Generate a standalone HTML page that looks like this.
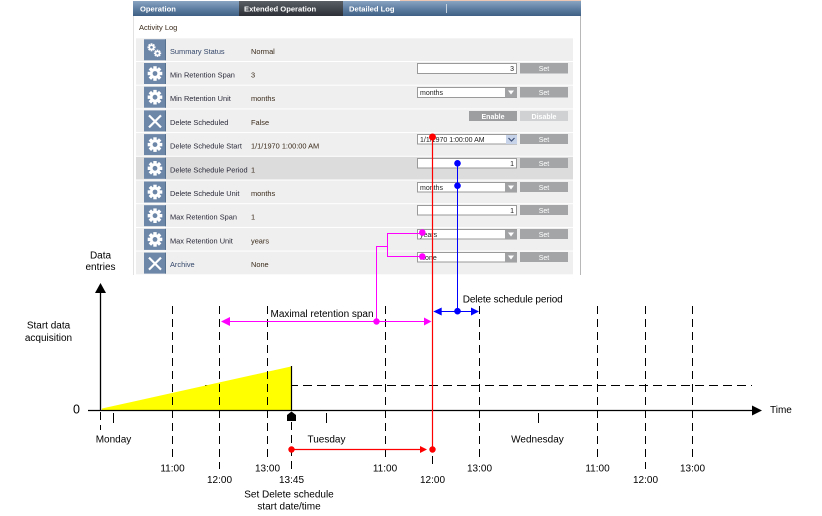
<!DOCTYPE html>
<html><head><meta charset="utf-8"><style>
html,body{margin:0;padding:0;background:#fff;}
svg{display:block;font-family:"Liberation Sans",sans-serif;}
</style></head><body>
<svg width="822" height="516" viewBox="0 0 822 516" xmlns="http://www.w3.org/2000/svg">
<defs>
<linearGradient id="tab" x1="0" y1="0" x2="0" y2="1"><stop offset="0" stop-color="#8aa5c2"/><stop offset="0.5" stop-color="#5f7fa3"/><stop offset="1" stop-color="#3f5f84"/></linearGradient>
<linearGradient id="tabd" x1="0" y1="0" x2="0" y2="1"><stop offset="0" stop-color="#5a5f66"/><stop offset="1" stop-color="#2c3036"/></linearGradient>
<g id="gear"><circle r="5.2" fill="#fff"/>
<rect x="-1.7" y="-7.3" width="3.4" height="3.2" fill="#fff"/>
<rect x="-1.7" y="-7.3" width="3.4" height="3.2" fill="#fff" transform="rotate(45)"/>
<rect x="-1.7" y="-7.3" width="3.4" height="3.2" fill="#fff" transform="rotate(90)"/>
<rect x="-1.7" y="-7.3" width="3.4" height="3.2" fill="#fff" transform="rotate(135)"/>
<rect x="-1.7" y="-7.3" width="3.4" height="3.2" fill="#fff" transform="rotate(180)"/>
<rect x="-1.7" y="-7.3" width="3.4" height="3.2" fill="#fff" transform="rotate(225)"/>
<rect x="-1.7" y="-7.3" width="3.4" height="3.2" fill="#fff" transform="rotate(270)"/>
<rect x="-1.7" y="-7.3" width="3.4" height="3.2" fill="#fff" transform="rotate(315)"/>
<circle r="2.4" fill="#6d87a9"/></g>
</defs>

<!-- panel -->
<rect x="133" y="0" width="448" height="275" fill="#fff"/>
<rect x="400" y="0" width="181" height="2" fill="#ecc8b4"/>
<rect x="133" y="1" width="448" height="15" fill="url(#tab)"/>
<rect x="239" y="1" width="104" height="15" fill="url(#tabd)"/>
<line x1="446.5" y1="4" x2="446.5" y2="13" stroke="#c8d4e0" stroke-width="1"/>
<g font-size="7.6" font-weight="bold" fill="#fff">
<text x="140" y="11.3">Operation</text>
<text x="244" y="11.3">Extended Operation</text>
<text x="349" y="11.3">Detailed Log</text>
</g>
<line x1="133.5" y1="16" x2="133.5" y2="275" stroke="#e2e2e2"/>
<line x1="580.5" y1="16" x2="580.5" y2="275" stroke="#b8b8b8"/>
<text x="139" y="30" font-size="7.5" fill="#3a2a1a">Activity Log</text>

<!-- rows -->
<g>
<rect x="136" y="38.3" width="437" height="22.7" fill="#efefef"/>
<rect x="136" y="62" width="437" height="22.7" fill="#efefef"/>
<rect x="136" y="85.7" width="437" height="22.7" fill="#efefef"/>
<rect x="136" y="109.4" width="437" height="22.7" fill="#efefef"/>
<rect x="136" y="133.1" width="437" height="22.7" fill="#efefef"/>
<rect x="136" y="156.8" width="437" height="22.7" fill="#dcdcdc"/>
<rect x="136" y="180.5" width="437" height="22.7" fill="#efefef"/>
<rect x="136" y="204.2" width="437" height="22.7" fill="#efefef"/>
<rect x="136" y="227.9" width="437" height="22.7" fill="#efefef"/>
<rect x="136" y="251.6" width="437" height="22.7" fill="#efefef"/>
</g>
<!-- icons -->
<g fill="#6d87a9">
<rect x="144" y="39.3" width="22" height="21"/>
<rect x="144" y="63" width="22" height="21"/>
<rect x="144" y="86.7" width="22" height="21"/>
<rect x="144" y="110.4" width="22" height="21"/>
<rect x="144" y="134.1" width="22" height="21"/>
<rect x="144" y="157.8" width="22" height="21"/>
<rect x="144" y="181.5" width="22" height="21"/>
<rect x="144" y="205.2" width="22" height="21"/>
<rect x="144" y="228.9" width="22" height="21"/>
<rect x="144" y="252.6" width="22" height="21"/>
</g>
<g stroke="#56708f" stroke-width="1">
<line x1="165.5" y1="39.3" x2="165.5" y2="60.3"/><line x1="165.5" y1="63" x2="165.5" y2="84"/><line x1="165.5" y1="86.7" x2="165.5" y2="107.7"/><line x1="165.5" y1="110.4" x2="165.5" y2="131.4"/><line x1="165.5" y1="134.1" x2="165.5" y2="155.1"/><line x1="165.5" y1="157.8" x2="165.5" y2="178.8"/><line x1="165.5" y1="181.5" x2="165.5" y2="202.5"/><line x1="165.5" y1="205.2" x2="165.5" y2="226.2"/><line x1="165.5" y1="228.9" x2="165.5" y2="249.9"/><line x1="165.5" y1="252.6" x2="165.5" y2="273.6"/>
</g>
<use href="#gear" transform="translate(151.5,47.3) scale(0.55)"/>
<use href="#gear" transform="translate(157.5,53.3) scale(0.5)"/>
<use href="#gear" transform="translate(155,73.5)"/>
<use href="#gear" transform="translate(155,97.2)"/>
<use href="#gear" transform="translate(155,144.6)"/>
<use href="#gear" transform="translate(155,168.3)"/>
<use href="#gear" transform="translate(155,192)"/>
<use href="#gear" transform="translate(155,215.7)"/>
<use href="#gear" transform="translate(155,239.4)"/>
<g stroke="#fff" stroke-width="2.2">
<line x1="149" y1="115.4" x2="161" y2="127.4"/><line x1="161" y1="115.4" x2="149" y2="127.4"/>
<line x1="149" y1="257.6" x2="161" y2="269.6"/><line x1="161" y1="257.6" x2="149" y2="269.6"/>
</g>
<!-- labels -->
<g font-size="7.4" fill="#2a2a3a">
<text x="170" y="53.8" fill="#34476a">Summary Status</text>
<text x="170" y="77.5">Min Retention Span</text>
<text x="170" y="101.2">Min Retention Unit</text>
<text x="170" y="124.9">Delete Scheduled</text>
<text x="170" y="148.6">Delete Schedule Start</text>
<text x="170" y="172.3">Delete Schedule Period</text>
<text x="170" y="196">Delete Schedule Unit</text>
<text x="170" y="219.7">Max Retention Span</text>
<text x="170" y="243.4">Max Retention Unit</text>
<text x="170" y="267.1" fill="#34476a">Archive</text>
</g>
<g font-size="7.4" fill="#3a2a1a">
<text x="251" y="53.8">Normal</text>
<text x="251" y="77.5">3</text>
<text x="251" y="101.2">months</text>
<text x="251" y="124.9">False</text>
<text x="251" y="148.6">1/1/1970 1:00:00 AM</text>
<text x="251" y="172.3">1</text>
<text x="251" y="196">months</text>
<text x="251" y="219.7">1</text>
<text x="251" y="243.4">years</text>
<text x="251" y="267.1">None</text>
</g>
<!-- controls -->
<g fill="#fff" stroke="#9a9a9a" stroke-width="1">
<rect x="417.5" y="63.5" width="99" height="10"/>
<rect x="417.5" y="87.5" width="99" height="10"/>
<rect x="417.5" y="134.5" width="99" height="9.5"/>
<rect x="417.5" y="158.5" width="99" height="9.5"/>
<rect x="417.5" y="182.5" width="99" height="9.5"/>
<rect x="417.5" y="205.5" width="99" height="9.5"/>
<rect x="417.5" y="229.5" width="99" height="9.5"/>
<rect x="417.5" y="252.5" width="99" height="9.5"/>
</g>
<g fill="#a0a2a4">
<rect x="505" y="88" width="12" height="9.5"/>
<rect x="505" y="183" width="12" height="9"/>
<rect x="505" y="230" width="12" height="9"/>
<rect x="505" y="253" width="12" height="9"/>
</g>
<rect x="506" y="135" width="11" height="9" fill="#c6d3e8"/>
<path d="M508.5 138 L511.5 141 L514.5 138" fill="none" stroke="#3b4f78" stroke-width="1.2"/>
<g fill="#fff">
<path d="M508 90.5 H514 L511 94.5 Z"/>
<path d="M508 185.5 H514 L511 189.5 Z"/>
<path d="M508 232.5 H514 L511 236.5 Z"/>
<path d="M508 255.5 H514 L511 259.5 Z"/>
</g>
<g fill="#a3a5a7">
<rect x="520" y="63" width="48" height="10.5"/>
<rect x="520" y="87" width="48" height="10.5"/>
<rect x="520" y="134" width="48" height="10"/>
<rect x="520" y="158" width="48" height="10"/>
<rect x="520" y="182" width="48" height="10"/>
<rect x="520" y="205" width="48" height="10"/>
<rect x="520" y="229" width="48" height="10"/>
<rect x="520" y="252" width="48" height="10"/>
<rect x="469" y="111" width="48" height="10" fill="#9c9ea0"/>
<rect x="520" y="111" width="48" height="10" fill="#cfd1d3"/>
</g>
<g font-size="7" fill="#fff" text-anchor="middle">
<text x="544" y="71">Set</text><text x="544" y="95">Set</text><text x="544" y="141.8">Set</text><text x="544" y="165.8">Set</text><text x="544" y="189.8">Set</text><text x="544" y="212.8">Set</text><text x="544" y="236.8">Set</text><text x="544" y="259.8">Set</text>
<text x="493" y="118.8" font-weight="bold">Enable</text><text x="544" y="118.8" font-weight="bold">Disable</text>
</g>
<g font-size="7" fill="#222">
<text x="514" y="71" text-anchor="end">3</text>
<text x="420" y="95">months</text>
<text x="420" y="142">1/1/1970 1:00:00 AM</text>
<text x="514" y="166" text-anchor="end">1</text>
<text x="420" y="190">months</text>
<text x="514" y="213" text-anchor="end">1</text>
<text x="420" y="237">years</text>
<text x="420" y="260">None</text>
</g>

<!-- chart: yellow area -->
<line x1="205" y1="385.5" x2="752" y2="385.5" stroke="#000" stroke-width="1" stroke-dasharray="9,5"/>
<polygon points="102,408.5 291,366.5 291,410 102,410" fill="#ffff00"/>

<!-- dashed verticals -->
<g stroke="#000" stroke-width="1" stroke-dasharray="8,5">
<line x1="172.5" y1="306" x2="172.5" y2="457"/>
<line x1="219.5" y1="306" x2="219.5" y2="469"/>
<line x1="267.5" y1="306" x2="267.5" y2="457"/>
<line x1="385.5" y1="306" x2="385.5" y2="457"/>
<line x1="479.5" y1="306" x2="479.5" y2="457"/>
<line x1="597.5" y1="306" x2="597.5" y2="457"/>
<line x1="645.5" y1="306" x2="645.5" y2="469"/>
<line x1="692.5" y1="306" x2="692.5" y2="457"/>
<line x1="291.5" y1="422" x2="291.5" y2="469"/>
<line x1="432.5" y1="456" x2="432.5" y2="469"/>
<line x1="100.5" y1="412" x2="100.5" y2="430"/>
</g>
<line x1="291.5" y1="366" x2="291.5" y2="410" stroke="#000" stroke-width="1.2"/>
<g stroke="#000" stroke-width="1">
<line x1="113.5" y1="413" x2="113.5" y2="423"/>
<line x1="326.5" y1="413" x2="326.5" y2="423"/>
<line x1="538.5" y1="413" x2="538.5" y2="423"/>
</g>

<!-- axes -->
<line x1="100.5" y1="290" x2="100.5" y2="410" stroke="#000" stroke-width="1.3"/>
<line x1="88" y1="410.5" x2="754" y2="410.5" stroke="#000" stroke-width="1.3"/>
<polygon points="100.5,283 95,293 106,293" fill="#000"/>
<polygon points="762,410.5 752,405.5 752,415.5" fill="#000"/>
<polygon points="291.5,411.5 296,415 296,421 287,421 287,415" fill="#000"/>

<!-- magenta -->
<g stroke="#ff00ff" stroke-width="1" fill="none">
<polyline points="422,233.5 387.5,233.5 387.5,256.5 422,256.5"/>
<polyline points="387.5,246.5 376.5,246.5 376.5,321.5"/>
<line x1="228" y1="321.5" x2="426" y2="321.5"/>
</g>
<g fill="#ff00ff">
<circle cx="422.3" cy="232.5" r="3.3"/>
<circle cx="422.3" cy="256.5" r="3.3"/>
<circle cx="376.5" cy="321.5" r="3.2"/>
<polygon points="221,321.5 230,317 230,326"/>
<polygon points="431.5,321.5 424,317.5 424,325.5"/>
</g>

<!-- blue -->
<g stroke="#0000ff" stroke-width="1" fill="none">
<line x1="457.5" y1="163" x2="457.5" y2="311"/>
<line x1="438" y1="311.5" x2="474" y2="311.5"/>
</g>
<g fill="#0000ff">
<circle cx="457.5" cy="163.3" r="3.3"/>
<circle cx="457.5" cy="185.7" r="3.3"/>
<circle cx="457.5" cy="311.2" r="3.3"/>
<polygon points="433.3,311.5 441.7,307.5 441.7,315.5"/>
<polygon points="479,311.5 471,307.5 471,315.5"/>
</g>

<!-- red -->
<g stroke="#ff0000" stroke-width="1.2" fill="none">
<line x1="432.5" y1="137" x2="432.5" y2="449"/>
<line x1="291" y1="449.5" x2="424" y2="449.5"/>
</g>
<g fill="#ff0000">
<circle cx="432.5" cy="137" r="3.5"/>
<circle cx="291.5" cy="449.5" r="3.2"/>
<circle cx="432.5" cy="449.5" r="3.2"/>
<polygon points="427,449.5 420,446 420,453"/>
</g>

<!-- chart text -->
<g font-size="10" fill="#000">
<text x="100.5" y="258.6" text-anchor="middle">Data</text>
<text x="100.5" y="270" text-anchor="middle">entries</text>
<text x="48.5" y="328.6" text-anchor="middle">Start data</text>
<text x="48.5" y="340.8" text-anchor="middle">acquisition</text>
<text x="73" y="413.5" font-size="12.5">0</text>
<text x="770" y="413">Time</text>
<text x="270.5" y="317" textLength="103">Maximal retention span</text>
<text x="462.7" y="302.5" textLength="100">Delete schedule period</text>
<text x="113.5" y="442.5" text-anchor="middle">Monday</text>
<text x="326.5" y="442.5" text-anchor="middle">Tuesday</text>
<text x="537.5" y="442.5" text-anchor="middle">Wednesday</text>
<text x="172.5" y="471.3" text-anchor="middle">11:00</text>
<text x="219.5" y="483" text-anchor="middle">12:00</text>
<text x="267.5" y="471.3" text-anchor="middle">13:00</text>
<text x="291.5" y="483" text-anchor="middle">13:45</text>
<text x="385" y="471.3" text-anchor="middle">11:00</text>
<text x="432.5" y="483" text-anchor="middle">12:00</text>
<text x="479.5" y="471.3" text-anchor="middle">13:00</text>
<text x="597.5" y="471.3" text-anchor="middle">11:00</text>
<text x="645.5" y="483" text-anchor="middle">12:00</text>
<text x="692.5" y="471.3" text-anchor="middle">13:00</text>
<text x="289" y="497.6" text-anchor="middle">Set Delete schedule</text>
<text x="289" y="509.6" text-anchor="middle">start date/time</text>
</g>
</svg>
</body></html>
